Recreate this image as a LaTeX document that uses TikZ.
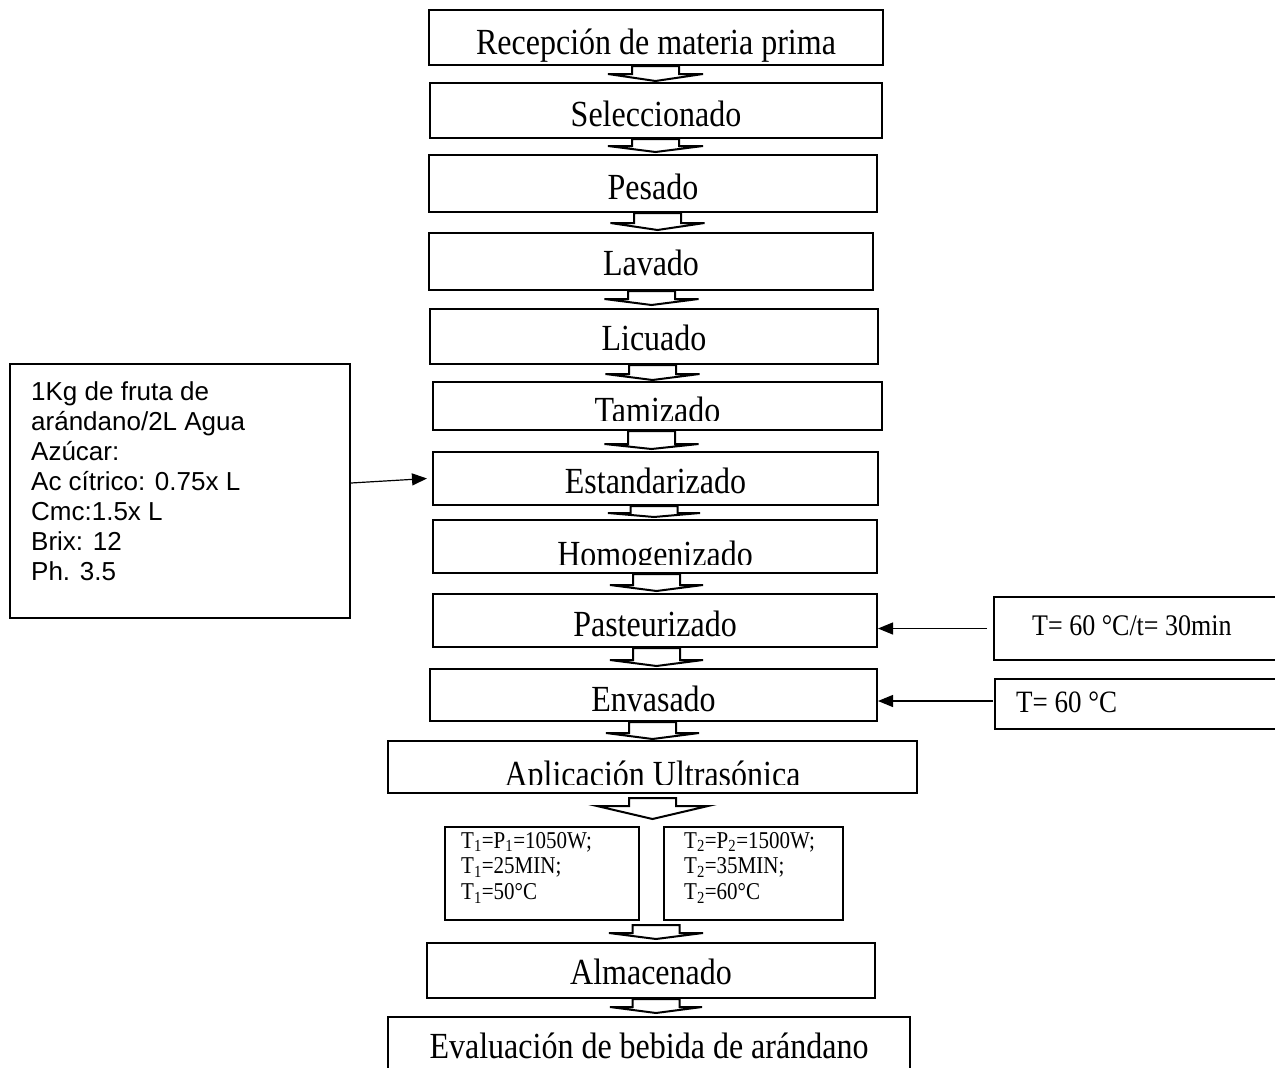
\documentclass[tikz,border=0pt]{standalone}
\usepackage{fontspec}
\usepackage{graphicx}
\setmainfont{Liberation Serif}
\newfontfamily\arialfont{Liberation Sans}
\usetikzlibrary{arrows.meta,calc}
\newcommand{\tallt}[1]{\scalebox{1}[1.15]{#1}}
\tikzset{
  box/.style={draw, line width=2pt, inner sep=0pt},
  bx/.style 2 args={box, minimum width=#1pt, minimum height=#2pt},
  lbl/.style={inner sep=0pt, font=\fontsize{32}{38}\selectfont},
  small/.style={inner sep=0pt, font=\fontsize{26}{30}\selectfont},
  blk/.style={draw, fill=white, line width=2pt},
  sarr/.style={line width=1.2pt, -{Triangle[length=15pt,width=12pt]}}
}
% from, to, centre x, start gap, stem length, tip gap, head half width
\newcommand{\blockarr}[7]{%
  \draw[blk] let \p1=(#1.south), \p2=(#2.north) in
    (#3pt-23.5pt,\y1-#4pt) -- (#3pt-23.5pt,\y1-#4pt-#5pt) -- (#3pt-#7pt,\y1-#4pt-#5pt)
    -- (#3pt,\y2+#6pt) -- (#3pt+#7pt,\y1-#4pt-#5pt) -- (#3pt+23.5pt,\y1-#4pt-#5pt)
    -- (#3pt+23.5pt,\y1-#4pt) -- cycle;}
\begin{document}
\begin{tikzpicture}[x=1pt,y=-1pt]
\useasboundingbox (0,0) rectangle (1275,1068);
% main boxes
\node[bx={454}{55}] (rec) at (656,37.5) {};
\node[bx={452}{55}] (sel) at (656,110.5) {};
\node[bx={448}{57}] (pes) at (653,183.5) {};
\node[bx={444}{57}] (lav) at (651,261.5) {};
\node[bx={448}{55}] (lic) at (654,336.5) {};
\node[bx={449}{48}] (tam) at (657.5,406) {};
\node[bx={445}{53}] (est) at (655.5,478.5) {};
\node[bx={444}{53}] (hom) at (655,546.5) {};
\node[bx={444}{53}] (pas) at (655,620.5) {};
\node[bx={447}{52}] (env) at (653.5,695) {};
\node[bx={529}{52}] (apl) at (652.5,767) {};
\node[bx={194}{93}] (ta) at (542,873.5) {};
\node[bx={179}{93}] (tb) at (753.5,873.5) {};
\node[bx={448}{55}] (alm) at (651,970.5) {};
\node[bx={522}{58}] (eva) at (649,1046) {};
% side boxes
\node[bx={340}{254}] (lft) at (180,491) {};
\node[bx={286}{63}] (ra) at (1137,628.5) {};
\node[bx={285}{50}] (rb) at (1137.5,704) {};
% labels
\node[lbl, anchor=base] (recT) at ([yshift=12pt]rec.south) {\tallt{Recepción de materia prima}};
\node[lbl, anchor=base] (selT) at ([yshift=13pt]sel.south) {\tallt{Seleccionado}};
\node[lbl, anchor=base] (pesT) at ([yshift=14pt]pes.south) {\tallt{Pesado}};
\node[lbl, anchor=base] (lavT) at ([yshift=16pt]lav.south) {\tallt{Lavado}};
\node[lbl, anchor=base] (licT) at ([yshift=15pt]lic.south) {\tallt{Licuado}};
\begin{scope}
  \clip (tam.north west) rectangle ([yshift=11pt]tam.south east);
  \node[lbl, anchor=base] (tamT) at ([yshift=9pt]tam.south) {\tallt{Tamizado}};
\end{scope}
\node[lbl, anchor=base] (estT) at ([yshift=13pt]est.south) {\tallt{Estandarizado}};
\begin{scope}
  \clip (hom.north west) rectangle ([yshift=10pt]hom.south east);
  \node[lbl, anchor=base] (homT) at ([yshift=8pt]hom.south) {\tallt{Homogenizado}};
\end{scope}
\node[lbl, anchor=base] (pasT) at ([yshift=12pt]pas.south) {\tallt{Pasteurizado}};
\node[lbl, anchor=base] (envT) at ([yshift=11pt]env.south) {\tallt{Envasado}};
\begin{scope}
  \clip (apl.north west) rectangle ([yshift=10pt]apl.south east);
  \node[lbl, anchor=base] (aplT) at ([yshift=8pt]apl.south) {\tallt{Aplicación Ultrasónica}};
\end{scope}
\node[lbl, anchor=base] (almT) at ([yshift=15pt]alm.south) {\tallt{Almacenado}};
\node[lbl, anchor=base] (evaT) at ([yshift=18pt]eva.south) {\tallt{Evaluación de bebida de arándano}};
\node[anchor=base west, inner sep=0pt] (taT) at ([xshift=17pt,yshift=-22pt]ta.north west)
  {\tallt{\parbox[t]{170pt}{\fontsize{21}{22.5}\selectfont T\textsubscript{1}=P\textsubscript{1}=1050W;\\T\textsubscript{1}=25MIN;\\T\textsubscript{1}=50°C\par}}};
\node[anchor=base west, inner sep=0pt] (tbT) at ([xshift=21pt,yshift=-22pt]tb.north west)
  {\tallt{\parbox[t]{150pt}{\fontsize{21}{22.5}\selectfont T\textsubscript{2}=P\textsubscript{2}=1500W;\\T\textsubscript{2}=35MIN;\\T\textsubscript{2}=60°C\par}}};
\node[anchor=base west, inner sep=0pt] (lftT) at ([xshift=22pt,yshift=-37pt]lft.north west)
  {\parbox[t]{310pt}{\arialfont\fontsize{26}{30}\selectfont 1Kg de fruta de\\arándano/2L Agua\\Azúcar:\\Ac cítrico: 0.75x L\\Cmc:1.5x L\\Brix: 12\\Ph. 3.5\par}};
\node[small, anchor=base west] (raT) at ([xshift=39pt,yshift=-39pt]ra.north west) {\tallt{T= 60 °C/t= 30min}};
\node[small, anchor=base west, font=\fontsize{27}{32}\selectfont] (rbT) at ([xshift=22pt,yshift=-34pt]rb.north west) {\tallt{T= 60 °C}};
% block arrows
\blockarr{rec}{sel}{655.5}{0}{8}{1}{47.5}
\blockarr{sel}{pes}{655.5}{0}{7}{2}{47.5}
\blockarr{pes}{lav}{657.5}{0}{10}{2}{47}
\blockarr{lav}{lic}{651.5}{0}{8}{3}{47}
\blockarr{lic}{tam}{652.5}{0}{9}{1}{47}
\blockarr{tam}{est}{651.5}{0}{13}{2}{47}
\blockarr{est}{hom}{654}{0}{7}{2}{46}
\blockarr{hom}{pas}{656.5}{0}{11}{2}{46.5}
\blockarr{pas}{env}{656.5}{0}{12}{2}{46.5}
\blockarr{env}{apl}{652.5}{0}{11}{1}{46.5}
\blockarr{apl}{ta}{652.5}{4}{8}{7}{55.5}
\blockarr{ta}{alm}{656}{4}{8}{3}{47}
\blockarr{alm}{eva}{656}{0}{8}{3}{46}
% side arrows
\draw[sarr] (lft.east |- 0,483) -- ([xshift=-5pt]est.west);
\coordinate (pa) at ([xshift=-6pt]ra.west);
\draw[sarr] (pa) -- (pa -| pas.east);
\coordinate (ea) at ([xshift=-1pt,yshift=3pt]rb.west);
\draw[sarr] (ea) -- (ea -| env.east);
\end{tikzpicture}
\end{document}
